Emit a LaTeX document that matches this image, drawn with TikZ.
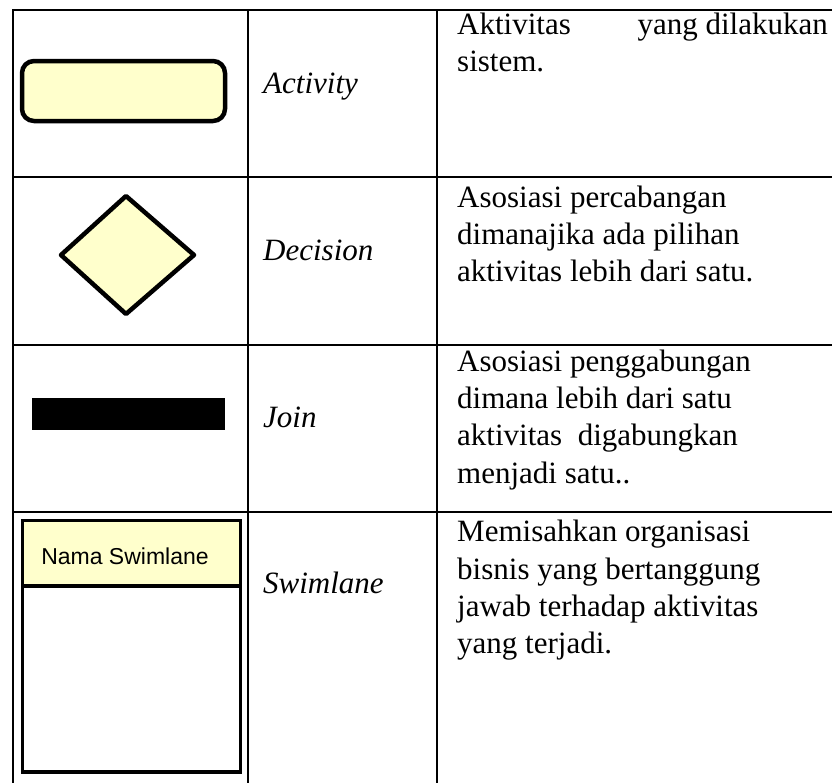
\documentclass[tikz,border=0pt]{standalone}
\usepackage{fontspec}
\setmainfont{Liberation Serif}
\newfontfamily\arialfont{Liberation Sans}
\definecolor{umlyellow}{HTML}{FFFFCC}
\begin{document}
\begin{tikzpicture}[x=1pt,y=-1pt,
  grid/.style={line width=2.2pt,line cap=rect},
  desc/.style={anchor=base west,inner sep=0pt,font=\fontsize{31}{37}\selectfont},
  term/.style={anchor=base west,inner sep=0pt,font=\fontsize{31}{37}\selectfont\itshape},
  shapeline/.style={line width=4.5pt,draw=black,fill=umlyellow}]
\useasboundingbox (0,0) rectangle (832,782);
% table grid
\draw[grid] (13,10) -- (840,10);
\draw[grid] (13,177) -- (840,177);
\draw[grid] (13,345) -- (840,345);
\draw[grid] (13,512) -- (840,512);
\draw[grid] (13,10) -- (13,790);
\draw[grid] (248,10) -- (248,790);
\draw[grid] (437,10) -- (437,790);
% symbols
\draw[shapeline,rounded corners=12pt] (22,61) rectangle (225,121);
\node[coordinate] (act) at (123,91) {};
\draw[shapeline,line join=round] (61,255) -- (126,196) -- (194,255) -- (126,314) -- cycle;
\node[coordinate] (dec) at (126,255) {};
\fill[black] (32,398) rectangle (225,430);
\node[coordinate] (join) at (128,414) {};
\draw[line width=3.2pt,fill=white] (22.5,520.5) rectangle (240.5,772);
\draw[line width=3.2pt,fill=umlyellow] (22.5,520.5) rectangle (240.5,586);
\node[inner sep=0pt,anchor=base,font=\arialfont\fontsize{23}{27}\selectfont] (swname) at (125,564) {Nama Swimlane};
% terms
\node[term] (t1) at (263,93) {Activity};
\node[term] (t2) at (263,260) {Decision};
\node[term] (t3) at (263,427) {Join};
\node[term] (t4) at (263,593) {Swimlane};
% descriptions
\node[desc] (d1a) at (457,34) {Aktivitas};
\node[desc,anchor=base east] (d1b) at (828,34) {yang dilakukan};
\node[desc] (d1c) at (457,71) {sistem.};
\node[desc] (d2a) at (457,207.5) {Asosiasi percabangan};
\node[desc] (d2b) at (457,244.5) {dimanajika ada pilihan};
\node[desc] (d2c) at (457,281.5) {aktivitas lebih dari satu.};
\node[desc] (d3a) at (457,371.5) {Asosiasi penggabungan};
\node[desc] (d3b) at (457,408.5) {dimana lebih dari satu};
\node[desc] (d3c) at (457,445.5) {aktivitas\ \ digabungkan};
\node[desc] (d3d) at (457,483) {menjadi satu..};
\node[desc] (d4a) at (457,541.5) {Memisahkan organisasi};
\node[desc] (d4b) at (457,579) {bisnis yang bertanggung};
\node[desc] (d4c) at (457,616.5) {jawab terhadap aktivitas};
\node[desc] (d4d) at (457,653.5) {yang terjadi.};
\end{tikzpicture}
\end{document}
